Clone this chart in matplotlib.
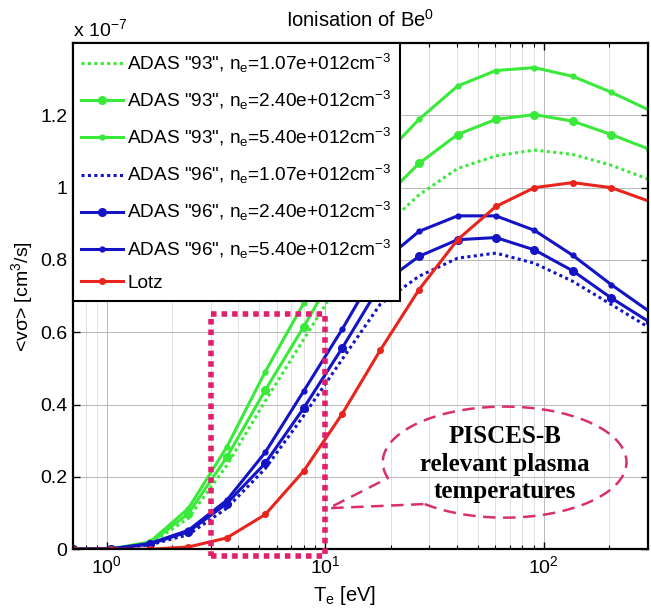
import numpy as np
import matplotlib
matplotlib.use('Agg')
import matplotlib.pyplot as plt
from matplotlib.ticker import LogLocator, NullFormatter

# ---------------- data (rate coefficients in units of 1e-7 cm^3/s) ----------------
Te = [0.7, 1.05, 1.575, 2.36, 3.54, 5.32, 7.97, 11.96, 17.9, 26.9, 40.4, 60.5, 90.8, 136, 204, 306]

adas93_107 = [0, 0.001, 0.015, 0.085, 0.231, 0.41, 0.58, 0.75, 0.882, 0.98, 1.053, 1.088, 1.104, 1.092, 1.062, 1.022]
adas93_240 = [0, 0.001, 0.017, 0.098, 0.254, 0.44, 0.615, 0.80, 0.961, 1.067, 1.147, 1.189, 1.202, 1.184, 1.147, 1.106]
adas93_540 = [0, 0.001, 0.020, 0.112, 0.282, 0.491, 0.68, 0.90, 1.077, 1.189, 1.281, 1.324, 1.332, 1.308, 1.264, 1.214]
adas96_107 = [0, 0.001, 0.012, 0.040, 0.113, 0.223, 0.369, 0.525, 0.678, 0.755, 0.805, 0.819, 0.791, 0.741, 0.677, 0.612]
adas96_240 = [0, 0.001, 0.014, 0.048, 0.126, 0.238, 0.39, 0.556, 0.731, 0.81, 0.856, 0.862, 0.828, 0.770, 0.695, 0.628]
adas96_540 = [0, 0.001, 0.016, 0.052, 0.135, 0.268, 0.437, 0.608, 0.79, 0.879, 0.922, 0.922, 0.882, 0.813, 0.732, 0.657]
lotz = [0, 0, 0, 0.006, 0.031, 0.096, 0.216, 0.374, 0.551, 0.718, 0.856, 0.948, 1.0, 1.014, 1.0, 0.962]

labels = ['ADAS "93", n$_e$=1.07e+012cm$^{-3}$',
          'ADAS "93", n$_e$=2.40e+012cm$^{-3}$',
          'ADAS "93", n$_e$=5.40e+012cm$^{-3}$',
          'ADAS "96", n$_e$=1.07e+012cm$^{-3}$',
          'ADAS "96", n$_e$=2.40e+012cm$^{-3}$',
          'ADAS "96", n$_e$=5.40e+012cm$^{-3}$',
          'Lotz']

yticks = [0, 0.2, 0.4, 0.6, 0.8, 1.0, 1.2]
yticklabels = ['0', '0.2', '0.4', '0.6', '0.8', '1', '1.2']

box_x = [3, 10]          # highlighted Te range (eV)
box_y = [-0.02, 0.65]

# ---------------- style ----------------
plt.rcParams['font.family'] = ['Liberation Sans', 'DejaVu Sans']
plt.rcParams['mathtext.default'] = 'regular'

green = '#3aea3a'
blue = '#1414c4'
red = '#e8241c'

fig = plt.figure(figsize=(6.51, 6.15), dpi=100)
ax = fig.add_axes([0.112, 0.107, 0.883, 0.823])

lw = 2.2
ax.plot(Te, adas93_107, color=green, lw=lw, ls=(0, (1, 1.1)), label=labels[0])
ax.plot(Te, adas93_240, color=green, lw=lw, marker='o', ms=5.5, label=labels[1])
ax.plot(Te, adas93_540, color=green, lw=lw, marker='o', ms=3.5, label=labels[2])
ax.plot(Te, adas96_107, color=blue, lw=lw, ls=(0, (1, 1.1)), label=labels[3])
ax.plot(Te, adas96_240, color=blue, lw=lw, marker='o', ms=5.5, label=labels[4])
ax.plot(Te, adas96_540, color=blue, lw=lw, marker='o', ms=3.5, label=labels[5])
ax.plot(Te, lotz, color=red, lw=lw, marker='o', ms=4, label=labels[6])

ax.set_xscale('log')
ax.set_xlim(0.7, 300)
ax.set_ylim(0, 1.4)
ax.set_yticks(yticks)
ax.set_yticklabels(yticklabels)
ax.xaxis.set_minor_locator(LogLocator(base=10, subs=np.arange(2, 10)))
ax.xaxis.set_minor_formatter(NullFormatter())

ax.tick_params(which='both', direction='in', top=True, right=True, labelsize=14)
ax.tick_params(which='major', length=5, width=1, pad=4)
ax.tick_params(which='minor', length=3, width=0.8)
ax.grid(which='major', axis='both', color='#b8b8b8', lw=0.7)
ax.grid(which='minor', axis='x', color='#dcdcdc', lw=0.6)
for s in ax.spines.values():
    s.set_linewidth(1.6)

ax.set_title('Ionisation of Be$^0$', fontsize=14.5, pad=12)
ax.text(0.0, 1.006, 'x 10$^{-7}$', transform=ax.transAxes, ha='left', va='bottom', fontsize=14)
ax.set_ylabel('<vσ> [cm$^3$/s]', fontsize=14)
ax.yaxis.set_label_coords(-0.066, 0.5)
ax.set_xlabel('T$_e$ [eV]', fontsize=14.5)
ax.xaxis.set_label_coords(0.473, -0.068)

leg = ax.legend(loc='upper left', borderaxespad=0, fancybox=False, edgecolor='black',
                framealpha=1, fontsize=13.7, handlelength=2.2, labelspacing=0.74,
                borderpad=0.45, handletextpad=0.2)
leg.get_frame().set_linewidth(1.5)

# highlighted range box
ax.plot([box_x[0], box_x[1], box_x[1], box_x[0], box_x[0]],
        [box_y[0], box_y[0], box_y[1], box_y[1], box_y[0]],
        color='#e0206c', lw=4, ls=(0, (1, 0.9)), clip_on=False, zorder=6,
        dash_capstyle='butt', solid_capstyle='butt')

# callout ellipse (axes fraction coords)
cx, cy, a, b = 0.751, 0.172, 0.212, 0.1097
t = np.radians(np.linspace(229, 556.7, 200))
ex = cx + a * np.cos(t)
ey = cy + b * np.sin(t)
tip = (0.445, 0.081)
px = np.concatenate([ex, [tip[0]], [ex[0]]])
py = np.concatenate([ey, [tip[1]], [ey[0]]])
ax.plot(px, py, transform=ax.transAxes, color='#d8306a', lw=1.8, ls=(0, (5, 3)),
        clip_on=False, zorder=6)
ax.text(cx, cy - 0.004, 'PISCES-B\nrelevant plasma\ntemperatures', transform=ax.transAxes,
        ha='center', va='center', multialignment='center', family='Liberation Serif',
        fontweight='bold', fontsize=18, linespacing=1.25, zorder=7)

fig.savefig('out.png', dpi=100)
